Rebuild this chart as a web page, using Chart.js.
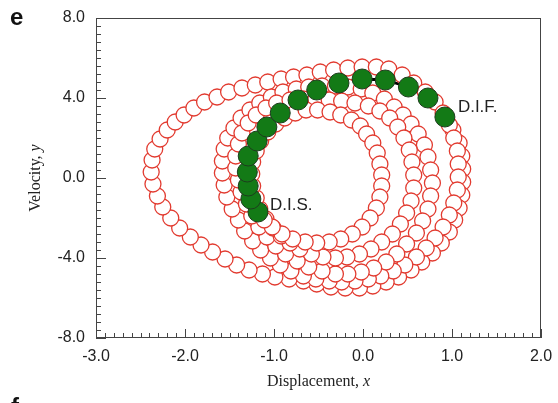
<!DOCTYPE html>
<html lang="en">
  <head>
    <meta charset="UTF-8" />
    <title>Phase portrait</title>
    <script src="https://cdn.jsdelivr.net/npm/chart.js@4"></script>
    <style>
      body { margin: 0; background: #fff; }
      #wrap { width: 558px; height: 403px; }
    </style>
  </head>
  <body>
    <div id="wrap"><canvas id="phaseChart"></canvas></div>
  </body>
  <script>
    // axis ticks
    const xTicks = [-3, -2, -1, 0, 1, 2];
    const yTicks = [-8, -4, 0, 4, 8];

    // green arc, from D.I.S. to D.I.F. [x, y]
    const greenPts = [
      [-1.18, -1.70], [-1.26, -1.05], [-1.29, -0.40], [-1.30, 0.30], [-1.29, 1.10], [-1.19, 1.85],
      [-1.08, 2.55], [-0.93, 3.25], [-0.73, 3.90], [-0.52, 4.40], [-0.27, 4.75], [-0.01, 4.95],
      [0.25, 4.90], [0.51, 4.55], [0.73, 4.00], [0.92, 3.05],
    ];

    // rest of the trajectory, lap by lap (clockwise)
    const loopA = [
      [1.01, 2.40], [1.08, 1.75], [1.11, 1.10], [1.12, 0.45], [1.12, -0.20], [1.11, -0.85], [1.08, -1.50],
      [1.03, -2.10], [0.97, -2.70], [0.88, -3.25], [0.78, -3.75], [0.66, -4.20], [0.54, -4.60], [0.40, -4.95],
      [0.26, -5.20], [0.11, -5.40], [-0.04, -5.50], [-0.20, -5.50], [-0.36, -5.45], [-0.52, -5.30],
      [-0.67, -5.15], [-0.83, -5.05], [-0.99, -4.95], [-1.13, -4.80], [-1.28, -4.60], [-1.42, -4.35],
      [-1.55, -4.05], [-1.69, -3.70], [-1.82, -3.35], [-1.94, -2.95], [-2.06, -2.50], [-2.16, -2.00],
      [-2.25, -1.45], [-2.31, -0.90], [-2.36, -0.30], [-2.38, 0.30], [-2.37, 0.90], [-2.34, 1.45],
      [-2.28, 1.95], [-2.20, 2.40], [-2.11, 2.80], [-2.01, 3.15], [-1.90, 3.50], [-1.78, 3.80],
      [-1.64, 4.05], [-1.51, 4.30], [-1.36, 4.50], [-1.21, 4.65], [-1.07, 4.80], [-0.92, 4.95],
      [-0.78, 5.05], [-0.63, 5.15], [-0.48, 5.30], [-0.33, 5.40], [-0.17, 5.50], [-0.01, 5.55],
      [0.15, 5.55], [0.29, 5.45],
    ];
    const loopB = [
      [0.44, 5.15], [0.57, 4.75], [0.70, 4.30], [0.81, 3.80], [0.90, 3.25], [0.97, 2.65], [1.02, 2.00],
      [1.06, 1.35], [1.07, 0.70], [1.07, 0.05], [1.06, -0.60], [1.02, -1.25], [0.97, -1.85], [0.90, -2.45],
      [0.81, -3.00], [0.71, -3.50], [0.60, -3.95], [0.47, -4.35], [0.34, -4.65], [0.20, -4.90],
      [0.06, -5.05], [-0.09, -5.15], [-0.24, -5.20], [-0.38, -5.15], [-0.53, -5.05], [-0.67, -4.90],
      [-0.81, -4.65], [-0.93, -4.35], [-1.04, -4.00], [-1.15, -3.60], [-1.24, -3.15], [-1.33, -2.65],
      [-1.40, -2.10], [-1.47, -1.55], [-1.53, -0.95], [-1.56, -0.35], [-1.58, 0.25], [-1.58, 0.85],
      [-1.56, 1.45], [-1.52, 2.00], [-1.45, 2.50], [-1.37, 3.00], [-1.27, 3.40], [-1.16, 3.75],
      [-1.03, 4.05], [-0.90, 4.30], [-0.75, 4.45], [-0.61, 4.55], [-0.46, 4.60], [-0.31, 4.60],
      [-0.17, 4.55], [-0.02, 4.45],
    ];
    const loopC = [
      [0.11, 4.25], [0.24, 3.95], [0.35, 3.55], [0.45, 3.15], [0.54, 2.70], [0.62, 2.20], [0.69, 1.65],
      [0.73, 1.05], [0.76, 0.40], [0.78, -0.25], [0.76, -0.90], [0.73, -1.55], [0.67, -2.15], [0.60, -2.75],
      [0.49, -3.30], [0.38, -3.80], [0.26, -4.20], [0.12, -4.50], [-0.02, -4.70], [-0.17, -4.80],
      [-0.31, -4.80], [-0.46, -4.65], [-0.61, -4.45], [-0.74, -4.15], [-0.87, -3.80], [-0.98, -3.40],
      [-1.08, -2.95], [-1.17, -2.45], [-1.25, -1.90], [-1.31, -1.30], [-1.37, -0.70], [-1.40, -0.10],
      [-1.43, 0.50], [-1.43, 1.10], [-1.40, 1.70], [-1.36, 2.25], [-1.29, 2.75], [-1.20, 3.15],
      [-1.09, 3.50], [-0.97, 3.75], [-0.82, 3.90], [-0.67, 3.95], [-0.53, 3.95], [-0.38, 3.90],
      [-0.24, 3.85], [-0.09, 3.75], [0.06, 3.60], [0.19, 3.35], [0.30, 3.00], [0.39, 2.55], [0.46, 2.00],
      [0.52, 1.40], [0.55, 0.80], [0.57, 0.15], [0.57, -0.50], [0.54, -1.15], [0.49, -1.75], [0.42, -2.30],
      [0.33, -2.80], [0.21, -3.20], [0.09, -3.55], [-0.04, -3.80], [-0.18, -3.95], [-0.31, -4.00],
      [-0.45, -3.95], [-0.58, -3.80], [-0.71, -3.55], [-0.82, -3.25], [-0.92, -2.90], [-1.01, -2.50],
    ];
    const loopD = [
      [-1.09, -2.05], [-1.16, -1.55], [-1.20, -1.00], [-1.24, -0.40], [-1.25, 0.20], [-1.24, 0.80],
      [-1.20, 1.35], [-1.15, 1.85], [-1.07, 2.30], [-0.98, 2.70], [-0.88, 3.00], [-0.76, 3.25],
      [-0.64, 3.40], [-0.51, 3.40], [-0.37, 3.30], [-0.25, 3.15], [-0.13, 2.90], [-0.03, 2.60],
      [0.04, 2.20], [0.11, 1.75], [0.16, 1.25], [0.19, 0.70], [0.21, 0.15], [0.21, -0.40], [0.19, -0.95],
      [0.15, -1.50], [0.08, -2.00], [-0.01, -2.45], [-0.12, -2.80], [-0.25, -3.05], [-0.38, -3.20],
      [-0.52, -3.25], [-0.65, -3.20], [-0.79, -3.05], [-0.91, -2.80], [-1.02, -2.45], [-1.11, -2.10],
      [-1.18, -1.70],
    ];

    const toXY = (p) => ({x: p[0], y: p[1]});
    const trajectory = [...greenPts, ...loopA, ...loopB, ...loopC, ...loopD].map(toXY);

    const serif = '"Liberation Serif", "Times New Roman", serif';
    const sans = '"Liberation Sans", Arial, sans-serif';

    // draws a label in two runs, the last letter in italics
    function mixedLabel(ctx, plain, ital, cx, cy) {
      ctx.font = "16px " + serif;
      const w1 = ctx.measureText(plain).width;
      ctx.font = "italic 16px " + serif;
      const w2 = ctx.measureText(ital).width;
      const sx = cx - (w1 + w2) / 2;
      ctx.textAlign = "left";
      ctx.font = "16px " + serif;
      ctx.fillText(plain, sx, cy);
      ctx.font = "italic 16px " + serif;
      ctx.fillText(ital, sx + w1, cy);
    }

    // box, inward minor/major ticks, titles and notes
    const frame = {
      id: "frame",
      beforeDatasetsDraw(chart) {
        const {ctx, chartArea: a} = chart;
        ctx.save();
        ctx.strokeStyle = "#444";
        ctx.lineWidth = 1;
        ctx.strokeRect(a.left + 0.5, a.top + 0.5, a.right - a.left - 1, a.bottom - a.top - 1);
        const xs = chart.scales.x, ys = chart.scales.y;
        ctx.beginPath();
        for (let i = 0; i <= 50; i++) {
          const px = Math.round(xs.getPixelForValue(-3 + i / 10)) + 0.5;
          const len = i % 10 === 0 ? 9 : 5;
          ctx.moveTo(px, a.bottom);
          ctx.lineTo(px, a.bottom - len);
        }
        for (let i = 0; i <= 40; i++) {
          const py = Math.round(ys.getPixelForValue(-8 + i * 0.4)) + 0.5;
          const len = i % 10 === 0 ? 10 : 5;
          ctx.moveTo(a.left, py);
          ctx.lineTo(a.left + len, py);
        }
        ctx.stroke();
        ctx.restore();
      },
      afterDraw(chart) {
        const {ctx, chartArea: a} = chart;
        ctx.save();
        ctx.fillStyle = "#222";
        ctx.textBaseline = "middle";

        mixedLabel(ctx, "Displacement, ", "x", (a.left + a.right) / 2, 382);

        ctx.save();
        ctx.translate(36, (a.top + a.bottom) / 2);
        ctx.rotate(-Math.PI / 2);
        mixedLabel(ctx, "Velocity, ", "y", 0, 0);
        ctx.restore();

        // panel letters
        ctx.fillStyle = "#111";
        ctx.textBaseline = "alphabetic";
        ctx.font = "bold 24px " + sans;
        ctx.fillText("e", 10, 25);
        ctx.fillText("f", 11, 415);

        // D.I.S. / D.I.F. notes next to the ends of the green arc
        const xs = chart.scales.x, ys = chart.scales.y;
        const first = greenPts[0], last = greenPts[greenPts.length - 1];
        ctx.fillStyle = "#222";
        ctx.textBaseline = "middle";
        ctx.font = "17px " + sans;
        ctx.fillText("D.I.S.", xs.getPixelForValue(first[0]) + 12, ys.getPixelForValue(first[1]) - 7);
        ctx.fillText("D.I.F.", xs.getPixelForValue(last[0]) + 13, ys.getPixelForValue(last[1]) - 10);
        ctx.restore();
      },
    };

    const ctx = document.getElementById("phaseChart").getContext("2d");
    new Chart(ctx, {
      type: "scatter",
      data: {
        datasets: [
          {
            label: "D.I.S. to D.I.F.",
            data: greenPts.map(toXY),
            order: 0,
            pointRadius: 10,
            pointBackgroundColor: "#137a16",
            pointBorderColor: "#1e3d1e",
            pointBorderWidth: 1,
            showLine: false,
          },
          {
            label: "trajectory",
            data: trajectory,
            order: 1,
            showLine: true,
            borderColor: "#000",
            borderWidth: 2.8,
            tension: 0,
            pointRadius: 8,
            pointBackgroundColor: "#fff",
            pointBorderColor: "#e23b30",
            pointBorderWidth: 1.3,
          },
        ],
      },
      options: {
        responsive: true,
        maintainAspectRatio: false,
        animation: false,
        layout: {padding: {top: 18, right: 17, bottom: 0, left: 0}},
        plugins: {legend: {display: false}, tooltip: {enabled: false}},
        scales: {
          x: {
            type: "linear",
            min: -3,
            max: 2,
            grid: {display: false},
            border: {display: false},
            afterBuildTicks: (s) => { s.ticks = xTicks.map((v) => ({value: v})); },
            afterFit: (s) => { s.height = 65; },
            ticks: {
              padding: 1,
              color: "#222",
              font: {family: sans, size: 16},
              callback: (v) => Number(v).toFixed(1),
            },
          },
          y: {
            type: "linear",
            min: -8,
            max: 8,
            grid: {display: false},
            border: {display: false},
            afterBuildTicks: (s) => { s.ticks = yTicks.map((v) => ({value: v})); },
            afterFit: (s) => { s.width = 96; },
            ticks: {
              padding: 3,
              color: "#222",
              font: {family: sans, size: 16},
              callback: (v) => Number(v).toFixed(1),
            },
          },
        },
      },
      plugins: [frame],
    });
  </script>
</html>
